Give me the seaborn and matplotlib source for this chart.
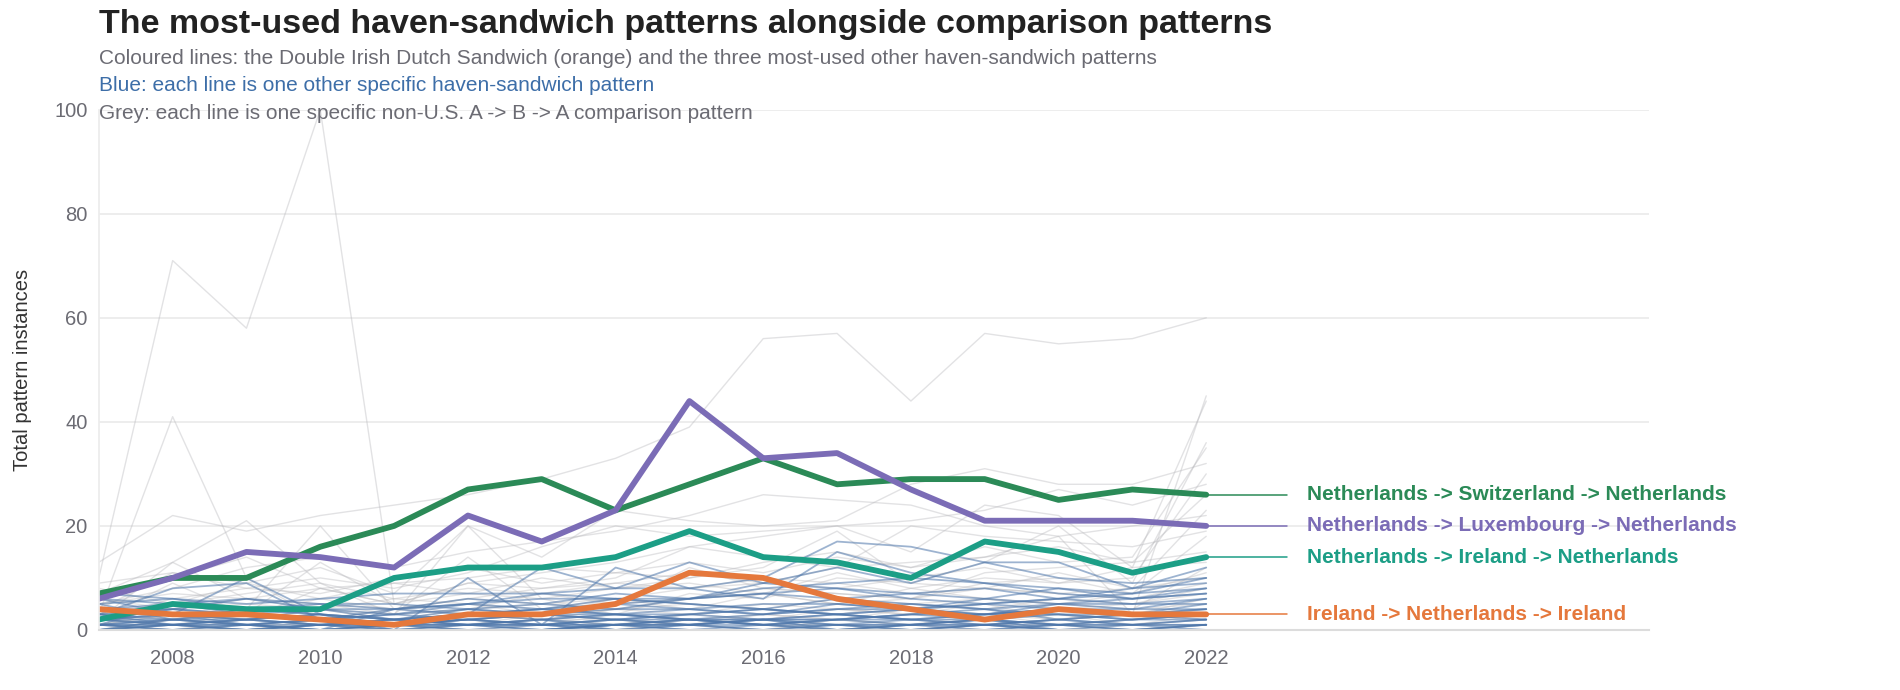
import numpy as np
import pandas as pd
import seaborn as sns
import matplotlib.pyplot as plt

YEARS = list(range(2007, 2023))

# highlighted patterns
HL_NAMES = [
    'Netherlands -> Switzerland -> Netherlands',
    'Netherlands -> Luxembourg -> Netherlands',
    'Netherlands -> Ireland -> Netherlands',
    'Ireland -> Netherlands -> Ireland',
]
HL_COLORS = ['#2b8a57', '#7b6cb6', '#1c9e86', '#e5783c']
NL_CH_NL = [7, 10, 10, 16, 20, 27, 29, 23, 28, 33, 28, 29, 29, 25, 27, 26]
NL_LU_NL = [6, 10, 15, 14, 12, 22, 17, 23, 44, 33, 34, 27, 21, 21, 21, 20]
NL_IE_NL = [2, 5, 4, 4, 10, 12, 12, 14, 19, 14, 13, 10, 17, 15, 11, 14]
IE_NL_IE = [4, 3, 3, 2, 1, 3, 3, 5, 11, 10, 6, 4, 2, 4, 3, 3]
HL_VALUES = [NL_CH_NL, NL_LU_NL, NL_IE_NL, IE_NL_IE]

# grey: non-U.S. A -> B -> A comparison patterns
GREY = [
    [10, 71, 58, 100, 5, 3, 2, 1, 2, 1, 1, 0, 1, 1, 0, 1],
    [13, 22, 19, 22, 24, 26, 29, 33, 39, 56, 57, 44, 57, 55, 56, 60],
    [3, 41, 10, 2, 1, 0, 1, 0, 2, 1, 0, 1, 0, 0, 1, 2],
    [7, 13, 21, 9, 3, 20, 14, 23, 21, 20, 21, 28, 31, 28, 28, 32],
    [5, 8, 12, 14, 12, 15, 17, 19, 22, 26, 25, 24, 20, 18, 20, 22],
    [2, 6, 8, 10, 8, 11, 16, 20, 18, 19, 20, 21, 23, 27, 24, 28],
    [0, 2, 4, 20, 4, 6, 8, 10, 16, 18, 20, 15, 24, 22, 12, 44],
    [1, 3, 2, 3, 2, 4, 5, 6, 8, 9, 12, 13, 14, 18, 3, 45],
    [4, 11, 9, 12, 7, 20, 6, 8, 10, 12, 19, 9, 13, 20, 9, 36],
    [3, 5, 3, 6, 9, 10, 12, 11, 13, 11, 14, 12, 16, 13, 14, 35],
    [6, 10, 14, 8, 5, 9, 8, 9, 11, 9, 8, 10, 12, 9, 10, 30],
    [2, 9, 3, 13, 5, 7, 6, 3, 7, 6, 10, 9, 8, 7, 8, 23],
    [1, 4, 6, 5, 3, 4, 7, 5, 6, 8, 7, 6, 9, 10, 7, 18],
    [0, 2, 1, 2, 1, 3, 2, 4, 3, 5, 4, 3, 6, 5, 4, 12],
    [3, 4, 5, 4, 6, 5, 4, 6, 5, 4, 6, 5, 4, 6, 5, 8],
    [2, 1, 3, 2, 4, 3, 2, 1, 3, 2, 4, 3, 5, 2, 3, 6],
    [8, 5, 7, 9, 6, 8, 7, 9, 8, 10, 9, 7, 8, 11, 8, 10],
    [1, 0, 2, 1, 0, 1, 3, 2, 1, 0, 2, 1, 3, 1, 2, 4],
    [5, 7, 6, 8, 9, 7, 10, 8, 9, 7, 11, 8, 10, 9, 12, 13],
    [0, 1, 0, 2, 1, 2, 1, 3, 2, 3, 2, 4, 3, 2, 4, 5],
    [4, 2, 3, 5, 4, 6, 5, 4, 6, 7, 5, 6, 8, 7, 6, 9],
    [2, 13, 6, 4, 3, 14, 4, 5, 12, 8, 7, 6, 11, 12, 13, 26],
    [1, 3, 2, 4, 2, 3, 3, 4, 5, 4, 3, 5, 6, 4, 5, 7],
    [0, 0, 1, 1, 2, 1, 2, 2, 1, 3, 2, 1, 2, 3, 1, 3],
    [6, 4, 2, 8, 5, 9, 11, 13, 16, 14, 12, 20, 18, 17, 16, 19],
    [9, 11, 8, 7, 10, 12, 9, 11, 10, 13, 15, 12, 14, 16, 13, 15],
    [2, 5, 9, 6, 4, 5, 3, 6, 4, 7, 5, 8, 6, 5, 7, 11],
]

# blue: other haven-sandwich patterns
BLUE = [
    [6, 3, 10, 3, 0, 10, 1, 12, 8, 10, 17, 16, 13, 10, 9, 10],
    [3, 8, 9, 2, 1, 3, 12, 8, 13, 9, 12, 9, 13, 13, 8, 9],
    [7, 6, 5, 6, 7, 7, 7, 8, 8, 6, 15, 11, 9, 8, 6, 7],
    [1, 5, 4, 5, 5, 4, 5, 4, 4, 5, 5, 4, 6, 5, 5, 5],
    [4, 4, 3, 4, 4, 5, 6, 6, 6, 7, 8, 7, 6, 8, 7, 10],
    [2, 3, 2, 3, 2, 3, 2, 3, 3, 4, 3, 4, 5, 4, 4, 4],
    [0, 1, 0, 1, 1, 2, 1, 2, 2, 2, 3, 2, 2, 3, 2, 3],
    [5, 2, 1, 0, 4, 6, 5, 7, 6, 8, 9, 10, 9, 7, 6, 8],
    [1, 1, 2, 1, 2, 1, 2, 1, 2, 1, 2, 1, 2, 1, 2, 2],
    [0, 0, 0, 1, 0, 0, 1, 0, 0, 1, 0, 0, 1, 0, 0, 1],
    [3, 2, 4, 3, 2, 4, 3, 5, 4, 3, 5, 4, 3, 5, 4, 6],
    [2, 2, 1, 2, 3, 2, 3, 3, 4, 3, 4, 4, 3, 4, 3, 5],
    [0, 1, 1, 0, 1, 1, 0, 1, 1, 0, 1, 1, 0, 1, 1, 1],
    [1, 0, 1, 2, 0, 1, 2, 0, 1, 2, 0, 1, 2, 0, 1, 2],
    [4, 5, 6, 5, 4, 3, 4, 5, 6, 7, 6, 5, 4, 5, 6, 7],
    [0, 0, 1, 0, 0, 0, 0, 1, 0, 0, 0, 0, 1, 0, 0, 0],
    [2, 1, 0, 1, 2, 1, 0, 1, 2, 1, 0, 1, 2, 1, 0, 1],
    [3, 4, 3, 2, 3, 4, 3, 2, 3, 4, 3, 2, 3, 4, 3, 4],
    [1, 2, 3, 2, 1, 2, 3, 2, 1, 2, 3, 2, 1, 2, 3, 2],
    [0, 2, 2, 1, 0, 1, 1, 2, 3, 2, 2, 3, 3, 4, 3, 3],
    [5, 6, 4, 3, 1, 2, 3, 4, 6, 9, 8, 6, 5, 6, 8, 12],
    [2, 3, 1, 2, 1, 2, 1, 2, 1, 2, 1, 2, 1, 2, 1, 2],
    [0, 0, 0, 0, 1, 1, 1, 1, 2, 2, 2, 2, 3, 3, 3, 3],
    [1, 1, 1, 1, 1, 1, 1, 1, 1, 1, 1, 1, 1, 1, 1, 1],
    [0, 1, 0, 0, 1, 0, 0, 1, 0, 0, 1, 0, 0, 1, 0, 0],
    [4, 3, 2, 1, 2, 3, 4, 3, 2, 3, 4, 5, 4, 3, 2, 3],
    [2, 4, 6, 4, 2, 3, 4, 6, 5, 4, 3, 4, 5, 6, 5, 6],
    [1, 0, 0, 1, 1, 0, 0, 1, 1, 0, 0, 1, 1, 0, 0, 1],
    [3, 1, 2, 4, 3, 5, 4, 3, 2, 1, 2, 3, 4, 2, 3, 4],
    [6, 5, 3, 2, 4, 5, 7, 6, 5, 4, 6, 7, 8, 6, 7, 8],
    [0, 0, 0, 0, 0, 0, 0, 0, 0, 0, 0, 0, 0, 0, 0, 0],
    [1, 2, 1, 0, 1, 2, 1, 0, 1, 2, 1, 0, 1, 2, 1, 0],
    [2, 1, 2, 3, 2, 1, 2, 3, 2, 1, 2, 3, 2, 1, 2, 3],
]


def long_form(rows):
    return pd.DataFrame([
        {'year': y, 'value': v, 'pattern': i}
        for i, row in enumerate(rows) for (y, v) in zip(YEARS, row)
    ])


sns.set_theme(style='white')
plt.rcParams['font.family'] = ['Liberation Sans', 'DejaVu Sans']

fig = plt.figure(figsize=(19, 6.9), dpi=100)
ax = fig.add_axes([0.052, 0.087, 0.816, 0.754])

sns.lineplot(data=long_form(GREY), x='year', y='value', units='pattern',
             estimator=None, color='#b8b8bc', alpha=0.4, linewidth=1.0, ax=ax)
sns.lineplot(data=long_form(BLUE), x='year', y='value', units='pattern',
             estimator=None, color='#4d76aa', alpha=0.55, linewidth=1.3, ax=ax)
for (name, vals, clr) in zip(HL_NAMES, HL_VALUES, HL_COLORS):
    sns.lineplot(x=YEARS, y=vals, color=clr, linewidth=4.2, ax=ax)
    ax.plot([YEARS[-1], YEARS[-1] + 1.1], [vals[-1], vals[-1]],
            color=clr, linewidth=1.1, clip_on=False)
    ax.text(YEARS[-1] + 1.37, vals[-1], name, color=clr, fontsize=15,
            fontweight='bold', va='center', ha='left')

ax.set_xlim(2007, 2028)
ax.set_ylim(0, 100)
ax.set_xticks(np.arange(2008, 2023, 2))
ax.set_yticks(np.arange(0, 101, 20))
ax.tick_params(axis='x', labelsize=14.5, labelcolor='#6b6b73', length=0, pad=14)
ax.tick_params(axis='y', labelsize=14.5, labelcolor='#6b6b73', length=0, pad=8)
ax.grid(axis='y', color='#ececec', linewidth=1.3)
ax.set_axisbelow(True)
for s in ['top', 'right']:
    ax.spines[s].set_visible(False)
ax.spines['left'].set_color('#ececec')
ax.spines['bottom'].set_color('#dcdcdc')
ax.spines['bottom'].set_linewidth(1.5)
ax.set_xlabel('')
ax.set_ylabel('Total pattern instances', fontsize=14.5, color='#333333', labelpad=16)

fig.text(0.052, 0.964, 'The most-used haven-sandwich patterns alongside comparison patterns',
         fontsize=24.5, fontweight='bold', color='#222222', va='center', ha='left')
fig.text(0.052, 0.915, 'Coloured lines: the Double Irish Dutch Sandwich (orange) and the three most-used other haven-sandwich patterns',
         fontsize=15, color='#6b6b73', va='center', ha='left')
fig.text(0.052, 0.876, 'Blue: each line is one other specific haven-sandwich pattern',
         fontsize=15, color='#3d6ea8', va='center', ha='left')
fig.text(0.052, 0.836, 'Grey: each line is one specific non-U.S. A -> B -> A comparison pattern',
         fontsize=15, color='#6b6b73', va='center', ha='left')

fig.savefig('out.png', dpi=100, facecolor='white')
